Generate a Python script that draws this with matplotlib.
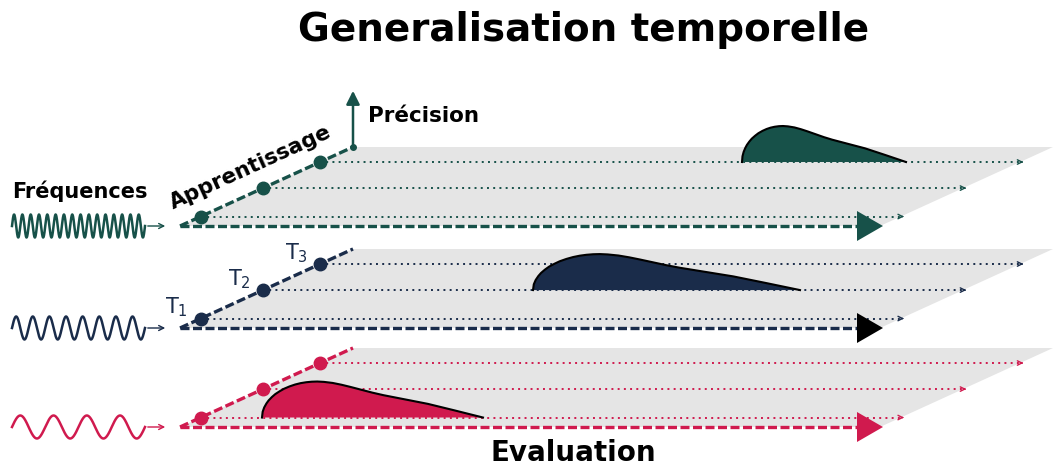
import matplotlib
matplotlib.use("Agg")
import matplotlib.pyplot as plt
from matplotlib.patches import Polygon
import numpy as np

# colours of the three frequency panels (top -> bottom)
panel_colors = ['#175149', '#1a2c4a', '#d01a4e']
head_colors = ['#175149', 'black', '#d01a4e']
plane_gray = '#e5e5e5'

# pixel layout of the schematic
panel_base_y = [226, 328, 427]     # y of the evaluation axis of each panel
origin_x = 180
diag_dx, diag_dy = 173, 79         # learning axis (skewed "depth")
plane_width = 700
eval_end_x = 857
head_len, head_half = 26, 15

wave_cycles = [16, 8, 4]
wave_x0, wave_x1, wave_amp = 12, 145, 11.5

time_fracs = [0.12, 0.48, 0.81]    # T1, T2, T3 along the learning axis
time_labels = ['T$_1$', 'T$_2$', 'T$_3$']
dotted_len = 706

# accuracy bump of each panel: which T line, start x, width
bump_line = [2, 1, 0]
bump_start = [742, 533, 262]
bump_width = [164, 267, 221]
bump_height = 36
shape_t = [0, 0.003, 0.01, 0.02, 0.03, 0.045, 0.06, 0.08, 0.10, 0.125, 0.15, 0.175, 0.20, 0.225,
           0.25, 0.28, 0.32, 0.36, 0.40, 0.45, 0.50, 0.55, 0.60, 0.65, 0.75, 0.87, 1.0]
shape_h = [0, 0.16, 0.28, 0.39, 0.475, 0.57, 0.65, 0.73, 0.80, 0.865, 0.917, 0.955, 0.98, 0.995,
           1.0, 0.99, 0.96, 0.91, 0.85, 0.77, 0.69, 0.62, 0.56, 0.50, 0.38, 0.20, 0.0]

fig = plt.figure(figsize=(10.56, 4.68), dpi=100)
ax = fig.add_axes([0, 0, 1, 1])
ax.set_xlim(0, 1056)
ax.set_ylim(468, 0)
ax.axis('off')

for i, base in enumerate(panel_base_y):
    c = panel_colors[i]
    top = base - diag_dy

    # grey plane
    plane = Polygon([(origin_x, base), (origin_x + diag_dx, top),
                     (origin_x + diag_dx + plane_width, top), (origin_x + plane_width, base)],
                    closed=True, facecolor=plane_gray, edgecolor='none', zorder=1)
    ax.add_patch(plane)

    # dotted evaluation lines from each T
    for f in time_fracs:
        xt = origin_x + diag_dx * f
        yt = base - diag_dy * f
        xe = xt + dotted_len
        ax.plot([xt, xe - 4], [yt, yt], color=c, lw=1.4, ls=(0, (1, 2.2)), zorder=2)
        ax.annotate('', xy=(xe, yt), xytext=(xe - 8, yt),
                    arrowprops=dict(arrowstyle='->', color=c, lw=1.0, mutation_scale=8),
                    zorder=2)

    # accuracy bump
    k = bump_line[i]
    yb = base - diag_dy * time_fracs[k]
    bx = bump_start[i] + bump_width[i] * np.array(shape_t)
    by = yb - bump_height * np.array(shape_h)
    ax.fill(bx, by, facecolor=c, edgecolor='none', zorder=3)
    ax.plot(bx, by, color='black', lw=1.5, zorder=3, solid_joinstyle='round')

    # evaluation axis (dashed) and its head
    ax.plot([origin_x, eval_end_x], [base, base], color=c, lw=2.4,
            dashes=(2.7, 1.05), zorder=4)
    ax.add_patch(Polygon([(eval_end_x, base - head_half), (eval_end_x + head_len, base),
                          (eval_end_x, base + head_half)], closed=True,
                         facecolor=head_colors[i], edgecolor='none', zorder=5))

    # learning axis (dashed diagonal) with T markers
    ax.plot([origin_x, origin_x + diag_dx], [base, top], color=c, lw=2.4,
            dashes=(2.7, 1.05), zorder=4)
    tx = [origin_x + diag_dx * f for f in time_fracs]
    ty = [base - diag_dy * f for f in time_fracs]
    ax.plot(tx, ty, 'o', color=c, ms=9, zorder=6)

    # input signal
    wx = np.linspace(wave_x0, wave_x1, 800)
    wy = base - wave_amp * np.sin(2 * np.pi * wave_cycles[i] * (wx - wave_x0) / (wave_x1 - wave_x0))
    ax.plot(wx, wy, color=c, lw=1.8, zorder=4)
    ax.annotate('', xy=(168, base), xytext=(wave_x1, base),
                arrowprops=dict(arrowstyle='->', color=c, lw=1.0, mutation_scale=9))

    if i == 1:
        for lab, x, y in zip(time_labels, tx, ty):
            ax.text(x - 24, y - 11, lab, fontsize=15, color=panel_colors[1],
                    ha='center', va='center')

# precision axis on the top panel
g = panel_colors[0]
px, py = origin_x + diag_dx, panel_base_y[0] - diag_dy
ax.annotate('', xy=(px, 88), xytext=(px, py),
            arrowprops=dict(arrowstyle='-|>', color=g, lw=1.8, mutation_scale=20), zorder=6)
ax.plot([px], [py], 'o', color=g, ms=4, zorder=6)

ax.text(584, 30, 'Generalisation temporelle', fontsize=28, fontweight='bold',
        ha='center', va='center')
ax.text(12, 191, 'Fréquences', fontsize=15, fontweight='bold', ha='left', va='center')
ax.text(368, 116, 'Précision', fontsize=15.5, fontweight='bold', ha='left', va='center')
ax.text(251, 167, 'Apprentissage', fontsize=15.5, fontweight='bold', ha='center', va='center',
        rotation=np.degrees(np.arctan2(diag_dy, diag_dx)), rotation_mode='anchor')
ax.text(573, 467, 'Evaluation', fontsize=20, fontweight='bold', ha='center', va='bottom')

fig.savefig('out.png', dpi=100)
